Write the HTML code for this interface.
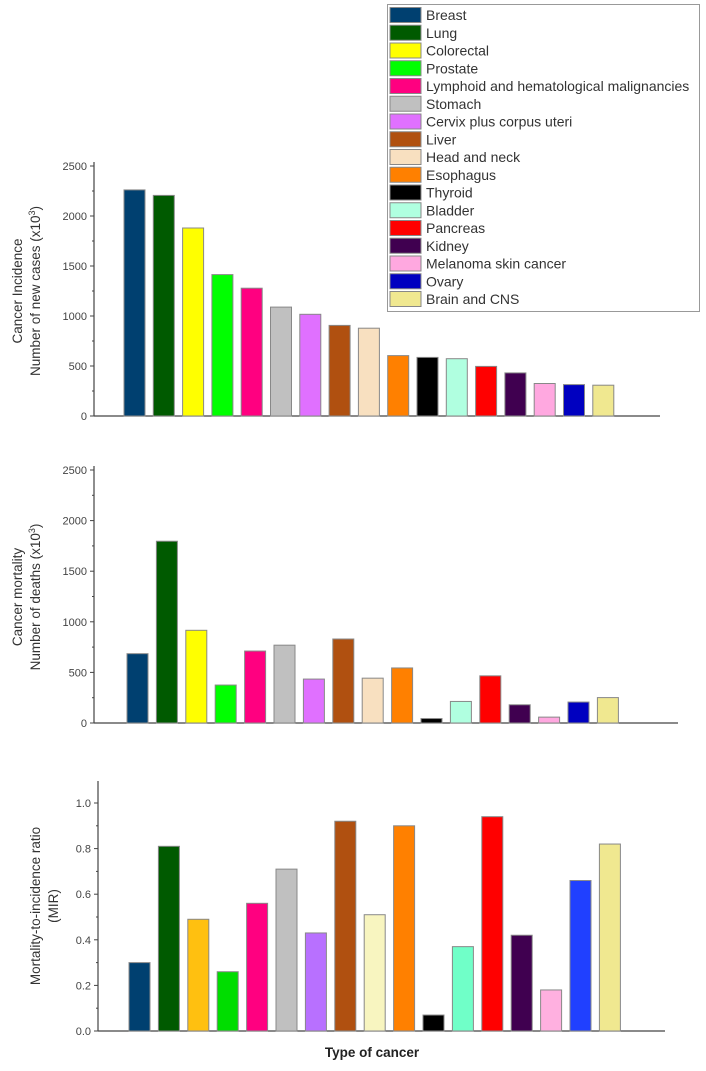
<!DOCTYPE html>
<html><head><meta charset="utf-8"><style>
body{margin:0;background:#fff;font-family:"Liberation Sans",sans-serif}
svg text{font-family:"Liberation Sans",sans-serif}
</style></head><body>
<svg id="c" width="706" height="1066" xmlns="http://www.w3.org/2000/svg"></svg>
<script>
const categories=["Breast","Lung","Colorectal","Prostate","Lymphoid and hematological malignancies","Stomach","Cervix plus corpus uteri","Liver","Head and neck","Esophagus","Thyroid","Bladder","Pancreas","Kidney","Melanoma skin cancer","Ovary","Brain and CNS"];
const incidence=[2261,2206,1880,1414,1278,1089,1017,906,878,604,586,573,496,431,325,314,308];
const mortality=[685,1796,916,375,711,769,434,830,443,544,44,213,466,180,58,207,251];
const mir=[0.30,0.81,0.49,0.26,0.56,0.71,0.43,0.92,0.51,0.90,0.07,0.37,0.94,0.42,0.18,0.66,0.82];
const countTicks=[0,500,1000,1500,2000,2500];
const mirTicks=["0.0","0.2","0.4","0.6","0.8","1.0"];
const colors=["#004070","#005a00","#ffff00","#00ff00","#ff0080","#c0c0c0","#e070ff","#b05010","#f8e0c0","#ff8000","#000000","#b0ffe0","#ff0000","#400050","#ffa8e0","#0000c0","#f0e890"];
const colors3=["#004070","#005a00","#ffc010","#00dd00","#ff0080","#c0c0c0","#b870ff","#b05010","#f8f5c0","#ff8000","#000000","#70ffc8","#ff0000","#400050","#ffb0e0","#2040ff","#f0e890"];
const svg=document.getElementById('c');const NS="http://www.w3.org/2000/svg";
function mk(t,a,p){const e=document.createElementNS(NS,t);for(const k in a)e.setAttribute(k,a[k]);(p||svg).appendChild(e);return e;}
function chart(o){
  const g=mk('g',{});
  
  
  const y=v=>o.y0-(v-o.min)/(o.max-o.min)*(o.y0-o.ytop);
  mk('line',{x1:o.ax,y1:o.y0,x2:o.xend,y2:o.y0,stroke:'#444','stroke-width':1.2},g);
  mk('line',{x1:o.ax,y1:o.y0,x2:o.ax,y2:o.axTop,stroke:'#444','stroke-width':1.2},g);
  o.ticks.forEach((t,i)=>{const v=o.tickVals[i];const ty=y(v);
    mk('line',{x1:o.ax-4,y1:ty,x2:o.ax,y2:ty,stroke:'#444'},g);
    if(i<o.ticks.length-1){const my=y(v+(o.tickVals[1]-o.tickVals[0])/2);mk('line',{x1:o.ax-2,y1:my,x2:o.ax,y2:my,stroke:'#444'},g);}
    const tx=mk('text',{x:o.ax-7,y:ty+4,'text-anchor':'end','font-size':11,fill:'#444'},g);tx.textContent=t;
    
    
  });
  o.vals.forEach((v,i)=>{const x=o.bx+i*o.pitch;const r=mk('rect',{x:x,y:y(v),width:o.bw,height:o.y0-y(v),fill:o.cols[i],stroke:'#888','stroke-width':1},g);
    
    
  });
  o.labels.forEach((l,i)=>{const t=mk('text',{x:0,y:0,transform:`translate(${o.lx+i*18},${o.lc}) rotate(-90)`,'text-anchor':'middle','font-size':13.5,fill:'#333'},g);t.innerHTML=l;
    
    
  });
}
chart({name:'incidence-chart',vals:incidence,cols:colors,min:0,max:2500,y0:416,ytop:166,axTop:162,ax:94,xend:660,bx:124,pitch:29.3,bw:21,ticks:countTicks.map(String),tickVals:countTicks,labels:["Cancer Incidence","Number of new cases (x10<tspan baseline-shift='super' font-size='9'>3</tspan>)"],lx:22,lc:291});
chart({name:'mortality-chart',vals:mortality,cols:colors,min:0,max:2500,y0:723,ytop:470,axTop:466,ax:94,xend:678,bx:127,pitch:29.4,bw:21,ticks:countTicks.map(String),tickVals:countTicks,labels:["Cancer mortality","Number of deaths (x10<tspan baseline-shift='super' font-size='9'>3</tspan>)"],lx:22,lc:597});
chart({name:'mir-chart',vals:mir,cols:colors3,min:0,max:1,y0:1031,ytop:803,axTop:781,ax:98,xend:665,bx:129,pitch:29.4,bw:21,ticks:mirTicks,tickVals:[0,0.2,0.4,0.6,0.8,1.0],labels:["Mortality-to-incidence ratio","(MIR)"],lx:40,lc:906});
const xt=mk('text',{x:372,y:1057,'text-anchor':'middle','font-size':13.5,'font-weight':'bold',fill:'#222'});xt.textContent="Type of cancer";


const lg=mk('g',{});


mk('rect',{x:387.5,y:4.5,width:312,height:307,fill:'#fff',stroke:'#999'},lg);
categories.forEach((c,i)=>{const yy=7.5+i*17.75;
  const e=mk('g',{},lg);
  
  
  mk('rect',{x:390,y:yy,width:31,height:15,fill:colors[i],stroke:'#888'},e);
  const t=mk('text',{x:426,y:yy+12.5,'font-size':14,fill:'#333'},e);t.textContent=c;});
</script>
</body></html>
